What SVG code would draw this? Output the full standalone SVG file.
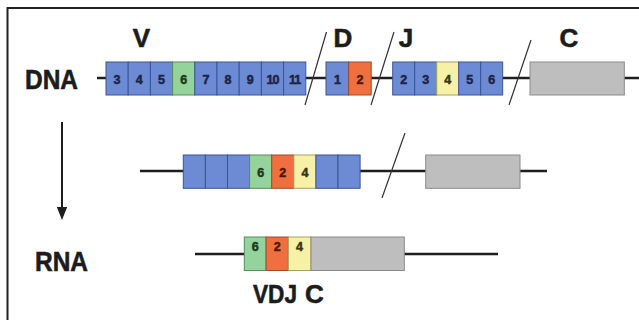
<svg xmlns="http://www.w3.org/2000/svg" width="639" height="320" viewBox="0 0 639 320">
  <style>
    .lbl { font-family: "Liberation Sans", Arial, sans-serif; font-weight: bold; fill: #1c1c1c; stroke: #1c1c1c; stroke-width: 0.6; }
    .big { font-size: 27px; }
    .seg { font-size: 26px; text-anchor: middle; }
    .num { font-family: "Liberation Sans", Arial, sans-serif; font-weight: bold; font-size: 12.5px; text-anchor: middle; fill: #1a2446; stroke: #1a2446; stroke-width: 0.5; }
    .dk-g { fill: #1c3a1c; stroke: #1c3a1c; }
    .dk-o { fill: #4a1a08; stroke: #4a1a08; }
    .dk-y { fill: #3a3410; stroke: #3a3410; }
    .blue { fill: #6d8ad4; stroke: #3a5596; stroke-width: 1; }
    .green { fill: #95d39d; stroke: #5a8a60; stroke-width: 1; }
    .orange { fill: #ef6f3f; stroke: #a04a28; stroke-width: 1; }
    .yellow { fill: #f6f1a6; stroke: #a8a060; stroke-width: 1; }
    .gray { fill: #bebebe; stroke: #8a8a8a; stroke-width: 1; }
    .strand { stroke: #1e1e1e; stroke-width: 2.5; fill: none; }
    .cut { stroke: #333; stroke-width: 1.2; fill: none; }
  </style>

  <rect width="639" height="320" fill="#ffffff"/>
  <!-- frame -->
  <path d="M7.5,320 V8 H639" fill="none" stroke="#222" stroke-width="2"/>

  <!-- row labels -->
  <text class="lbl big" x="25" y="88.5" textLength="53" lengthAdjust="spacingAndGlyphs">DNA</text>
  <text class="lbl big" x="35" y="271" textLength="53" lengthAdjust="spacingAndGlyphs">RNA</text>

  <!-- connectors: strands, cut marks, arrow -->
  <g id="connectors">
    <line class="strand" x1="97" y1="78" x2="639" y2="78"/>
    <line class="strand" x1="140" y1="171" x2="547" y2="171"/>
    <line class="strand" x1="195" y1="254" x2="498" y2="254"/>
    <line class="cut" x1="326.5" y1="32" x2="305" y2="105"/>
    <line class="cut" x1="394" y1="32" x2="371" y2="105"/>
    <line class="cut" x1="531" y1="40" x2="509" y2="105"/>
    <line class="cut" x1="405" y1="133" x2="382" y2="198"/>
    <line x1="62" y1="122" x2="62" y2="209" stroke="#1e1e1e" stroke-width="2"/>
    <polygon points="56.8,207 67.2,207 62,220" fill="#1e1e1e"/>
  </g>

  <!-- germline V segments -->
  <g id="dna-v">
    <text class="lbl seg" x="141.5" y="47">V</text>
    <rect class="blue" x="106" y="62" width="22.2" height="33"/>
    <rect class="blue" x="128.2" y="62" width="22.2" height="33"/>
    <rect class="blue" x="150.4" y="62" width="22.2" height="33"/>
    <rect class="green" x="172.6" y="62" width="22.2" height="33"/>
    <rect class="blue" x="194.8" y="62" width="22.2" height="33"/>
    <rect class="blue" x="217" y="62" width="22.2" height="33"/>
    <rect class="blue" x="239.2" y="62" width="22.2" height="33"/>
    <rect class="blue" x="261.4" y="62" width="22.2" height="33"/>
    <rect class="blue" x="283.6" y="62" width="22.2" height="33"/>
    <text class="num" x="117.1" y="84.3">3</text>
    <text class="num" x="139.3" y="84.3">4</text>
    <text class="num" x="161.5" y="84.3">5</text>
    <text class="num dk-g" x="183.7" y="84.3">6</text>
    <text class="num" x="205.9" y="84.3">7</text>
    <text class="num" x="228.1" y="84.3">8</text>
    <text class="num" x="250.3" y="84.3">9</text>
    <text class="num" x="272.5" y="84.3" letter-spacing="-1">10</text>
    <text class="num" x="294.7" y="84.3" letter-spacing="-1">11</text>
  </g>

  <!-- germline D segments -->
  <g id="dna-d">
    <text class="lbl seg" x="343" y="47">D</text>
    <rect class="blue" x="326" y="62" width="22.7" height="33"/>
    <rect class="orange" x="348.7" y="62" width="22.5" height="33"/>
    <text class="num" x="337.4" y="84.3">1</text>
    <text class="num dk-o" x="360" y="84.3">2</text>
  </g>

  <!-- germline J segments -->
  <g id="dna-j">
    <text class="lbl seg" x="406" y="47">J</text>
    <rect class="blue" x="392.7" y="62" width="22" height="33"/>
    <rect class="blue" x="414.7" y="62" width="22" height="33"/>
    <rect class="yellow" x="436.7" y="62" width="22" height="33"/>
    <rect class="blue" x="458.7" y="62" width="22" height="33"/>
    <rect class="blue" x="480.7" y="62" width="22" height="33"/>
    <text class="num" x="403.7" y="84.3">2</text>
    <text class="num" x="425.7" y="84.3">3</text>
    <text class="num dk-y" x="447.7" y="84.3">4</text>
    <text class="num" x="469.7" y="84.3">5</text>
    <text class="num" x="491.7" y="84.3">6</text>
  </g>

  <!-- germline C segment -->
  <g id="dna-c">
    <text class="lbl seg" x="569" y="47">C</text>
    <rect class="gray" x="530" y="62" width="94.3" height="33"/>
  </g>

  <!-- rearranged DNA -->
  <g id="rearranged-vdj">
    <rect class="blue" x="183.3" y="155" width="22.1" height="33.3"/>
    <rect class="blue" x="205.4" y="155" width="22.1" height="33.3"/>
    <rect class="blue" x="227.5" y="155" width="22.1" height="33.3"/>
    <rect class="green" x="249.6" y="155" width="22.1" height="33.3"/>
    <rect class="orange" x="271.7" y="155" width="22.1" height="33.3"/>
    <rect class="yellow" x="293.8" y="155" width="22.1" height="33.3"/>
    <rect class="blue" x="315.9" y="155" width="22.1" height="33.3"/>
    <rect class="blue" x="338" y="155" width="22.1" height="33.3"/>
    <text class="num dk-g" x="260.7" y="176.7">6</text>
    <text class="num dk-o" x="282.8" y="176.7">2</text>
    <text class="num dk-y" x="304.9" y="176.7">4</text>
  </g>
  <g id="rearranged-c">
    <rect class="gray" x="425.7" y="155" width="94.3" height="33.3"/>
  </g>

  <!-- spliced RNA -->
  <g id="rna-vdj">
    <rect class="green" x="244.3" y="237" width="21.8" height="33.5"/>
    <rect class="orange" x="266.1" y="237" width="22.2" height="33.5"/>
    <rect class="yellow" x="288.3" y="237" width="22.7" height="33.5"/>
    <text class="num dk-g" x="255.2" y="251">6</text>
    <text class="num dk-o" x="277.2" y="251">2</text>
    <text class="num dk-y" x="299.6" y="251">4</text>
    <text class="lbl" font-size="26" x="253" y="302.5" textLength="44" lengthAdjust="spacingAndGlyphs">VDJ</text>
  </g>
  <g id="rna-c">
    <rect class="gray" x="311" y="237" width="93.3" height="33.5"/>
    <text class="lbl" font-size="26" x="305" y="302.5">C</text>
  </g>
</svg>
